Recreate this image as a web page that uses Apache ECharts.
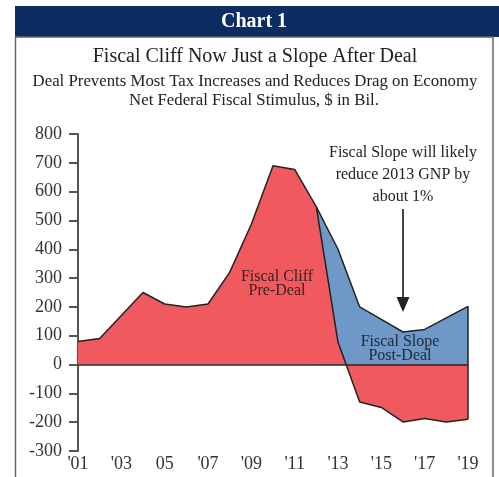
<!DOCTYPE html>
<html>
<head>
<meta charset="utf-8">
<script src="https://cdn.jsdelivr.net/npm/echarts@6/dist/echarts.min.js"></script>
<style>
html,body{margin:0;padding:0;background:#fff;}
#chart{width:499px;height:477px;}
</style>
</head>
<body>
<div id="chart"></div>
<script>
// ---- data ----
var years = ['2001','2002','2003','2004','2005','2006','2007','2008','2009','2010','2011','2012','2013','2014','2015','2016','2017','2018','2019'];
var xTickLabels = ["'01","'03","05","'07","'09","'11","'13","'15","'17","'19"];
var yTicks = [-300,-200,-100,0,100,200,300,400,500,600,700,800];
var preDeal = [80, 90, 170, 250, 210, 200, 210, 320, 487, 690, 677, 547, 78, -130, -149, -199, -187, -199, -190];
var postDeal = [null, null, null, null, null, null, null, null, null, null, null, 547, 400, 200, 157, 113, 122, 162, 202];
var titleText = 'Chart 1';
var mainTitle = 'Fiscal Cliff Now Just a Slope After Deal';
var subTitle1 = 'Deal Prevents Most Tax Increases and Reduces Drag on Economy';
var subTitle2 = 'Net Federal Fiscal Stimulus, $ in Bil.';
var noteLines = ['Fiscal Slope will likely', 'reduce 2013 GNP by', 'about 1%'];
var preLabel = ['Fiscal Cliff', 'Pre-Deal'];
var postLabel = ['Fiscal Slope', 'Post-Deal'];

var FONT = '"Liberation Serif", "DejaVu Serif", serif';
var RED = '#f05a5f';
var BLUE = '#6e98c7';
var NAVY = '#0b2d62';

var chart = echarts.init(document.getElementById('chart'), null, {renderer: 'canvas'});
var last = years.length - 1;

var option = {
  animation: false,
  backgroundColor: '#fff',
  grid: {left: 78, right: 31, top: 134, bottom: 26, containLabel: false},
  xAxis: {
    type: 'category',
    data: years,
    boundaryGap: false,
    axisLine: {show: false},
    axisTick: {show: false},
    splitLine: {show: false},
    axisLabel: {
      interval: 0,
      margin: 4,
      color: '#333',
      fontFamily: FONT,
      fontSize: 18,
      formatter: function (v, idx) { return idx % 2 === 0 ? xTickLabels[idx / 2] : ''; }
    }
  },
  yAxis: {
    type: 'value',
    min: yTicks[0],
    max: yTicks[yTicks.length - 1],
    interval: 100,
    axisLine: {show: true, lineStyle: {color: '#555', width: 2}},
    axisTick: {show: true, length: 9, lineStyle: {color: '#555', width: 2}},
    splitLine: {show: false},
    axisLabel: {margin: 16, color: '#333', fontFamily: FONT, fontSize: 18}
  },
  series: [
    {
      name: 'Fiscal Slope Post-Deal',
      type: 'line',
      data: postDeal,
      symbol: 'none',
      z: 2,
      lineStyle: {color: '#222', width: 1.5},
      areaStyle: {color: BLUE, opacity: 1, origin: 0},
      markLine: {
        silent: true,
        symbol: ['none', 'none'],
        label: {show: false},
        lineStyle: {color: '#222', width: 1.5, type: 'solid'},
        data: [[{coord: [years[last], preDeal[last]]}, {coord: [years[last], postDeal[last]]}]]
      }
    },
    {
      name: 'Fiscal Cliff Pre-Deal',
      type: 'line',
      data: preDeal,
      symbol: 'none',
      z: 3,
      lineStyle: {color: '#222', width: 1.5},
      areaStyle: {color: RED, opacity: 1, origin: 0},
      markLine: {
        silent: true,
        symbol: ['none', 'none'],
        label: {show: false},
        lineStyle: {color: '#222', width: 1.5, type: 'solid'},
        data: [[{coord: [years[0], 0]}, {coord: [years[last], 0]}]]
      }
    }
  ],
  graphic: [
    {type: 'rect', shape: {x: 15, y: 6, width: 484, height: 31}, style: {fill: NAVY}, z: 10},
    {type: 'rect', shape: {x: 15.5, y: 37, width: 477.5, height: 460}, style: {fill: 'none', stroke: '#666', lineWidth: 1.5}, z: 10},
    {type: 'text', x: 254, y: 22, style: {text: titleText, fill: '#fff', font: 'bold 20px ' + FONT, textAlign: 'center', textVerticalAlign: 'middle'}, z: 11},
    {type: 'text', x: 255, y: 57, style: {text: mainTitle, fill: '#222', font: '20px ' + FONT, textAlign: 'center', textVerticalAlign: 'middle'}, z: 11},
    {type: 'text', x: 255, y: 82, style: {text: subTitle1, fill: '#222', font: '16.8px ' + FONT, textAlign: 'center', textVerticalAlign: 'middle'}, z: 11},
    {type: 'text', x: 254, y: 101, style: {text: subTitle2, fill: '#222', font: '16.8px ' + FONT, textAlign: 'center', textVerticalAlign: 'middle'}, z: 11},
    {type: 'text', x: 403, y: 153, style: {text: noteLines[0], fill: '#222', font: '16px ' + FONT, textAlign: 'center', textVerticalAlign: 'middle'}, z: 11},
    {type: 'text', x: 403, y: 175, style: {text: noteLines[1], fill: '#222', font: '16px ' + FONT, textAlign: 'center', textVerticalAlign: 'middle'}, z: 11},
    {type: 'text', x: 403, y: 197, style: {text: noteLines[2], fill: '#222', font: '16px ' + FONT, textAlign: 'center', textVerticalAlign: 'middle'}, z: 11},
    {type: 'line', shape: {x1: 403, y1: 209, x2: 403, y2: 300}, style: {stroke: '#444', lineWidth: 2}, z: 11},
    {type: 'polygon', shape: {points: [[396.5, 297], [409.5, 297], [403, 312]]}, style: {fill: '#222'}, z: 11},
    {type: 'text', x: 277, y: 277, style: {text: preLabel[0], fill: '#3a2222', font: '16px ' + FONT, textAlign: 'center', textVerticalAlign: 'middle'}, z: 11},
    {type: 'text', x: 277, y: 291, style: {text: preLabel[1], fill: '#3a2222', font: '16px ' + FONT, textAlign: 'center', textVerticalAlign: 'middle'}, z: 11},
    {type: 'text', x: 400, y: 342, style: {text: postLabel[0], fill: '#222a3a', font: '16px ' + FONT, textAlign: 'center', textVerticalAlign: 'middle'}, z: 11},
    {type: 'text', x: 400, y: 356, style: {text: postLabel[1], fill: '#222a3a', font: '16px ' + FONT, textAlign: 'center', textVerticalAlign: 'middle'}, z: 11}
  ]
};
chart.setOption(option);
</script>
</body>
</html>
